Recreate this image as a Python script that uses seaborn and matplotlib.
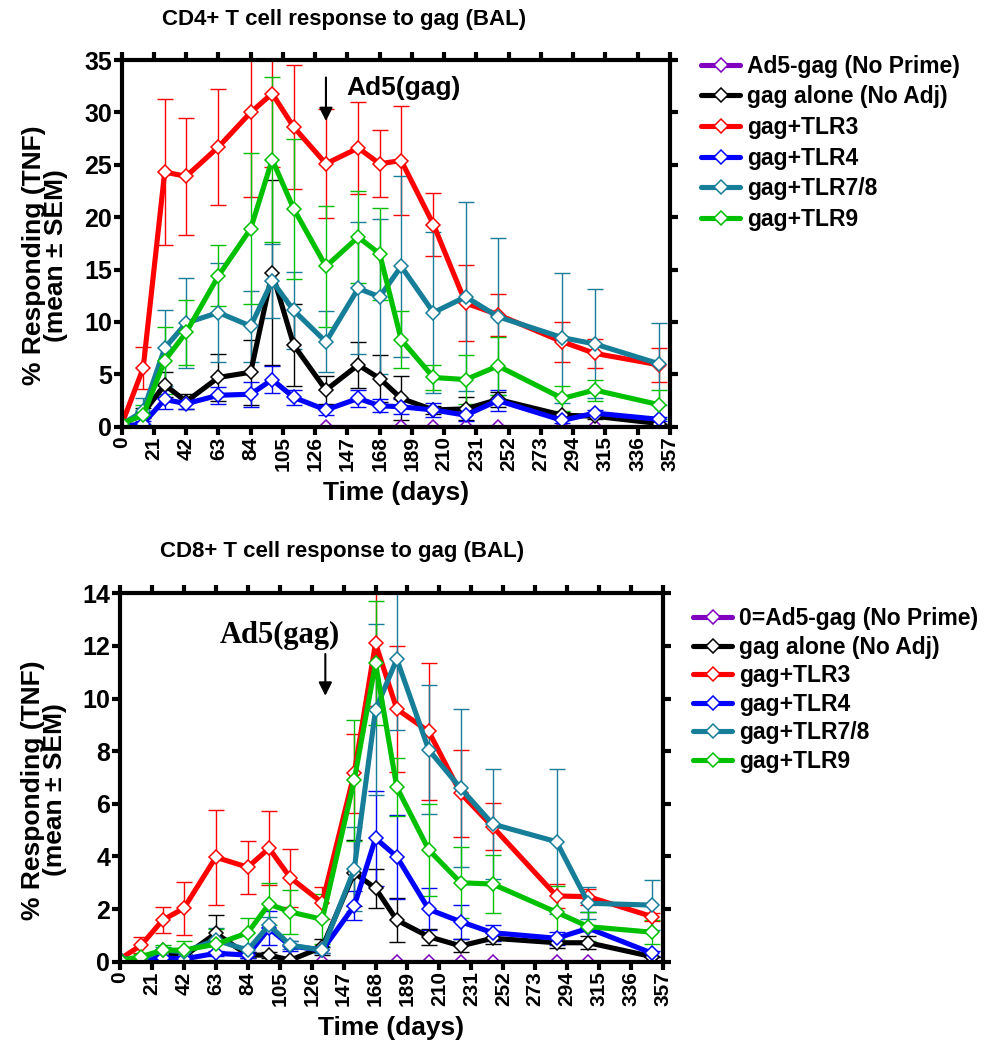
import numpy as np
import pandas as pd
import matplotlib
matplotlib.use("Agg")
import matplotlib.pyplot as plt
import seaborn as sns

# sampling days (same for both panels)
days = [0, 14, 28, 42, 63, 84, 98, 112, 133, 154, 168, 182, 203, 224, 245, 287, 308, 350]
noprime_days = [133, 182, 203, 224, 245, 287, 308, 350]
noprime_vals = [0, 0, 0, 0, 0, 0, 0, 0]

# CD4+ panel, mean and SEM
cd4_alone = [0.2, 1.3, 4.0, 2.4, 4.7, 5.2, 14.7, 7.8, 3.5, 5.9, 4.6, 2.7, 1.6, 1.7, 2.6, 1.1, 1.0, 0.3]
cd4_alone_sem = [0, 0.5, 1.2, 0.7, 2.2, 3.1, 8.8, 3.9, 1.3, 2.2, 2.2, 2.1, 0.4, 1.1, 0.7, 0.3, 0.3, 0]
cd4_tlr3 = [0.2, 5.6, 24.3, 23.9, 26.7, 30.0, 31.8, 28.6, 25.1, 26.6, 25.1, 25.4, 19.3, 11.8, 10.7, 8.1, 7.0, 5.9]
cd4_tlr3_sem = [0, 2.0, 7.0, 5.6, 5.5, 8.1, 7.0, 5.9, 5.2, 4.4, 3.2, 5.2, 3.0, 3.6, 2.0, 1.9, 1.4, 1.6]
cd4_tlr4 = [0.0, 0.3, 2.6, 2.2, 3.0, 3.1, 4.5, 2.8, 1.6, 2.7, 2.0, 1.9, 1.6, 1.1, 2.5, 0.6, 1.3, 0.7]
cd4_tlr4_sem = [0, 0.2, 0.9, 0.5, 0.8, 1.2, 1.3, 0.7, 0.5, 0.8, 0.6, 0.7, 0.7, 0.6, 1.0, 0.2, 0.3, 0.2]
cd4_tlr78 = [0.2, 1.5, 7.5, 9.9, 10.9, 9.6, 13.9, 11.1, 8.1, 13.2, 12.4, 15.3, 10.9, 12.4, 10.5, 8.5, 7.9, 6.0]
cd4_tlr78_sem = [0, 1.2, 3.6, 4.3, 4.7, 3.4, 3.5, 3.7, 2.9, 6.3, 7.4, 8.6, 7.7, 9.0, 7.5, 6.2, 5.2, 3.9]
cd4_tlr9 = [0.3, 1.1, 6.3, 9.0, 14.4, 18.9, 25.5, 20.8, 15.3, 18.1, 16.5, 8.3, 4.7, 4.5, 5.8, 2.7, 3.5, 2.1]
cd4_tlr9_sem = [0, 1.0, 3.2, 3.1, 2.9, 7.2, 7.9, 6.7, 5.8, 4.4, 4.4, 2.7, 1.2, 2.3, 2.8, 1.2, 1.0, 1.4]

# CD8+ panel, mean and SEM
cd8_alone = [0.05, 0.1, 0.3, 0.2, 1.08, 0.25, 0.25, 0.06, 0.55, 3.38, 2.79, 1.58, 0.95, 0.6, 0.89, 0.72, 0.72, 0.19]
cd8_alone_sem = [0, 0, 0.1, 0.1, 0.7, 0.1, 0.1, 0, 0.3, 1.25, 0.75, 0.85, 0.3, 0.25, 0.2, 0.2, 0.25, 0]
cd8_tlr3 = [0.1, 0.63, 1.58, 2.03, 3.97, 3.59, 4.31, 3.19, 2.24, 7.16, 12.1, 9.6, 8.75, 6.4, 5.13, 2.5, 2.47, 1.71]
cd8_tlr3_sem = [0, 0.3, 0.5, 1.0, 1.8, 1.0, 1.4, 1.1, 0.6, 1.5, 2.4, 2.4, 2.6, 1.65, 0.9, 0.45, 0.3, 0.15]
cd8_tlr4 = [0.05, 0.05, 0.15, 0.1, 0.32, 0.25, 1.27, 0.6, 0.44, 2.12, 4.69, 3.99, 1.99, 1.52, 1.1, 0.89, 1.27, 0.32]
cd8_tlr4_sem = [0, 0, 0.05, 0.05, 0.1, 0.1, 0.65, 0.2, 0.1, 0.55, 1.8, 1.6, 0.8, 0.65, 0.3, 0.25, 0.6, 0.1]
cd8_tlr78 = [0.1, 0.1, 0.44, 0.38, 0.82, 0.44, 1.39, 0.63, 0.44, 3.51, 9.57, 11.5, 8.05, 6.59, 5.23, 4.56, 2.22, 2.15]
cd8_tlr78_sem = [0, 0, 0.1, 0.1, 0.45, 0.15, 0.3, 0.15, 0.1, 1.6, 3.25, 2.7, 2.45, 3.0, 2.1, 2.75, 0.6, 0.95]
cd8_tlr9 = [0.05, 0.19, 0.44, 0.44, 0.66, 1.1, 2.19, 1.89, 1.61, 6.9, 11.34, 6.63, 4.25, 3.0, 2.95, 1.88, 1.33, 1.12]
cd8_tlr9_sem = [0, 0.1, 0.2, 0.35, 0.6, 0.55, 0.8, 0.85, 0.95, 2.3, 2.35, 1.1, 1.75, 1.35, 1.1, 1.0, 0.55, 0.45]

x_ticks = list(range(0, 358, 21))
colors = ["#7F00BF", "#000000", "#FF0000", "#0000FF", "#167E98", "#00C000"]

sns.set_style("ticks")
plt.rcParams["font.family"] = ["Liberation Sans", "DejaVu Sans"]
plt.rcParams["font.weight"] = "bold"
plt.rcParams["axes.labelweight"] = "bold"
plt.rcParams["axes.edgecolor"] = "black"
plt.rcParams["xtick.color"] = "black"
plt.rcParams["ytick.color"] = "black"
plt.rcParams["text.color"] = "black"
plt.rcParams["axes.labelcolor"] = "black"


def draw_panel(ax, series, names, ymax, ystep, ylab_xy):
    for (x, m, s), name, c in zip(series, names, colors):
        ax.errorbar(x, m, yerr=s, fmt="none", ecolor=c, elinewidth=1.0,
                    capsize=6, capthick=1.0, zorder=2)
    for (x, m, s), name, c in zip(series, names, colors):
        sns.lineplot(x=x, y=m, ax=ax, color=c, linewidth=3.7, marker="D",
                     markersize=7.5, markerfacecolor="white", markeredgecolor=c,
                     markeredgewidth=1.1, label=name, zorder=3)
    ax.get_legend().remove()
    ax.set_xlim(0, 357)
    ax.set_ylim(0, ymax)
    ax.set_xticks(x_ticks)
    ax.set_xticklabels([str(t) for t in x_ticks], rotation=90, fontsize=15, fontweight="bold")
    yt = np.arange(0, ymax + 0.1, ystep)
    ax.set_yticks(yt)
    ax.set_yticklabels([str(int(t)) for t in yt], fontsize=18, fontweight="bold")
    for sp in ax.spines.values():
        sp.set_visible(True)
        sp.set_linewidth(3)
        sp.set_zorder(5)
    ax.tick_params(axis="both", direction="out", length=6, width=3,
                   top=True, right=True, pad=1)
    ax.set_xlabel("Time (days)", fontsize=19, fontweight="bold", labelpad=7)
    ax.set_ylabel("% Responding (TNF)\n(mean \u00b1 SEM)", fontsize=19,
                  fontweight="bold", linespacing=0.9)
    ax.yaxis.set_label_coords(*ylab_xy)
    ax.yaxis.label.set_verticalalignment("center")


fig = plt.figure(figsize=(9.86, 10.4), dpi=100)

ax1 = fig.add_axes([0.1234, 0.5897, 0.5561, 0.3526])
s4 = [(noprime_days, noprime_vals, [0] * len(noprime_days)),
      (days, cd4_alone, cd4_alone_sem),
      (days, cd4_tlr3, cd4_tlr3_sem),
      (days, cd4_tlr4, cd4_tlr4_sem),
      (days, cd4_tlr78, cd4_tlr78_sem),
      (days, cd4_tlr9, cd4_tlr9_sem)]
names4 = ["Ad5-gag (No Prime)", "gag alone (No Adj)", "gag+TLR3", "gag+TLR4",
          "gag+TLR7/8", "gag+TLR9"]
draw_panel(ax1, s4, names4, 35, 5, (-0.14, 0.468))
ax1.annotate("", xy=(133, 28.9), xytext=(133, 33.6),
             arrowprops=dict(arrowstyle="-|>", color="black", lw=1.5, mutation_scale=20))
ax1.text(146, 32.3, "Ad5(gag)", fontsize=19, fontweight="bold", ha="left", va="center")
fig.text(0.349, 0.981, "CD4+ T cell response to gag (BAL)", fontsize=16,
         fontweight="bold", ha="center", va="center")
h, l = ax1.get_legend_handles_labels()
fig.legend(h, l, loc="upper left", bbox_to_anchor=(0.702, 0.956), frameon=False,
           prop={"weight": "bold", "size": 16.5}, handlelength=1.7,
           handletextpad=0.3, labelspacing=0.33, borderaxespad=0)

ax2 = fig.add_axes([0.1217, 0.0753, 0.5507, 0.3542])
s8 = [(noprime_days, noprime_vals, [0] * len(noprime_days)),
      (days, cd8_alone, cd8_alone_sem),
      (days, cd8_tlr3, cd8_tlr3_sem),
      (days, cd8_tlr4, cd8_tlr4_sem),
      (days, cd8_tlr78, cd8_tlr78_sem),
      (days, cd8_tlr9, cd8_tlr9_sem)]
names8 = ["0=Ad5-gag (No Prime)", "gag alone (No Adj)", "gag+TLR3", "gag+TLR4",
          "gag+TLR7/8", "gag+TLR9"]
draw_panel(ax2, s8, names8, 14, 2, (-0.14, 0.466))
ax2.annotate("", xy=(135, 10.0), xytext=(135, 11.8),
             arrowprops=dict(arrowstyle="-|>", color="black", lw=1.5, mutation_scale=20))
ax2.text(105, 12.4, "Ad5(gag)", fontsize=22, fontweight="bold", ha="center",
         va="center", family="Liberation Serif")
fig.text(0.347, 0.47, "CD8+ T cell response to gag (BAL)", fontsize=16,
         fontweight="bold", ha="center", va="center")
h, l = ax2.get_legend_handles_labels()
fig.legend(h, l, loc="upper left", bbox_to_anchor=(0.694, 0.425), frameon=False,
           prop={"weight": "bold", "size": 16.5}, handlelength=1.7,
           handletextpad=0.3, labelspacing=0.24, borderaxespad=0)

fig.savefig("out.png", dpi=100)
